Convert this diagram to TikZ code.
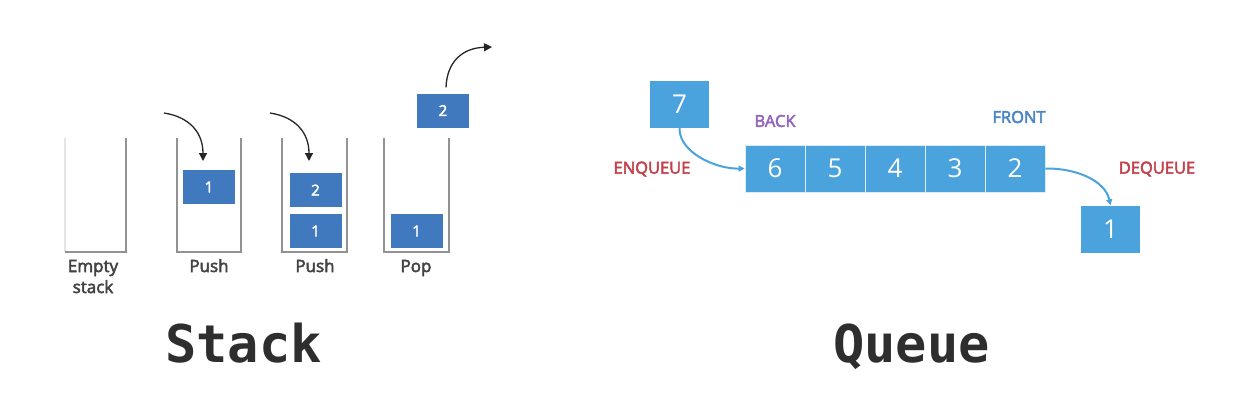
\documentclass[tikz,border=0pt]{standalone}
\usepackage{fontspec}
\setmainfont{Open Sans}
\newfontfamily\titlefont{DejaVu Sans Mono}
\newfontfamily\medfont[FakeBold=3]{Open Sans}
\usetikzlibrary{arrows.meta}
\definecolor{sblue}{HTML}{4179BF}
\definecolor{qblue}{HTML}{4BA3DD}
\definecolor{wallgray}{HTML}{929292}
\definecolor{backpurple}{HTML}{9466BD}
\definecolor{frontblue}{HTML}{4A86C5}
\definecolor{opred}{HTML}{C2414B}
\definecolor{titlegray}{HTML}{2E2E2E}
\begin{document}
\begin{tikzpicture}[x=1pt,y=-1pt,
  wall/.style={draw=wallgray,line width=1.7pt},
  sbox/.style={rectangle,fill=sblue,text=white,minimum width=52pt,minimum height=34pt,inner sep=0pt,font=\medfont\fontsize{15}{15}\selectfont},
  qcell/.style={rectangle,fill=qblue,draw=white!80!qblue,line width=0.8pt,text=white,minimum width=60pt,minimum height=47pt,inner sep=0pt,font=\fontsize{26}{26}\selectfont},
  qbox/.style={rectangle,fill=qblue,text=white,minimum width=59pt,minimum height=47pt,inner sep=0pt,font=\fontsize{26}{26}\selectfont},
  slabel/.style={anchor=base,text=titlegray!90,font=\medfont\fontsize{17}{21}\selectfont,align=center,inner sep=0pt},
  qlabel/.style={inner sep=0pt,font=\medfont\fontsize{16.5}{16.5}\selectfont},
  title/.style={anchor=base,text=titlegray,inner sep=0pt,font=\titlefont\bfseries\fontsize{52}{52}\selectfont},
  sarrow/.style={draw=black!85,line width=1.3pt,-{Triangle[length=8pt,width=8pt]}},
  qarrow/.style={draw=qblue,line width=2pt,-{Triangle[length=6pt,width=6pt]}}]
\useasboundingbox (0,0) rectangle (1234,408);

% ---------- Stack ----------
\draw[wall,draw=wallgray!25] (65,138) -- (65,252);
\draw[wall] (65,252) -- (126,252) -- (126,138);
\draw[wall] (177,138) -- (177,252) -- (241,252) -- (241,138);
\draw[wall] (282,138) -- (282,252) -- (347,252) -- (347,138);
\draw[wall] (384,138) -- (384,252) -- (449,252) -- (449,138);

\node[sbox] (p1) at (209,187) {1};
\node[sbox] (p22) at (315.5,190) {2};
\node[sbox] (p21) at (315.5,231) {1};
\node[sbox] (o1) at (416.5,231) {1};
\node[sbox] (o2) at (443,110.5) {2};

\coordinate (a1s) at (164,113);
\coordinate (a1e) at (203,161);
\coordinate (a2s) at (270,113);
\coordinate (a2e) at (309,161);
\coordinate (a3e) at (492,47);
\draw[sarrow] (a1s) .. controls (190,117) and (203,133) .. (a1e);
\draw[sarrow] (a2s) .. controls (296,117) and (309,133) .. (a2e);
\draw[sarrow] (o2.north) ++(3,-6) coordinate (a3s) .. controls (447,62) and (462,48) .. (a3e);

\node[slabel] (l0) at (93,293) {Empty\\stack};
\node[slabel] (l1) at (209,272) {Push};
\node[slabel] (l2) at (315,272) {Push};
\node[slabel] (l3) at (416,272) {Pop};

\node[title] (ts) at (243.5,362) {Stack};

% ---------- Queue ----------
\node[qcell] (c6) at (775,168.5) {6};
\node[qcell] (c5) at (835,168.5) {5};
\node[qcell] (c4) at (895,168.5) {4};
\node[qcell] (c3) at (955,168.5) {3};
\node[qcell] (c2) at (1015,168.5) {2};
\node[qbox] (n7) at (679.5,104.5) {7};
\node[qbox] (n1) at (1110.5,229) {1};

\draw[qarrow] (n7.south) .. controls (679,152) and (715,169) .. (c6.west);
\draw[qarrow] (c2.east) .. controls (1075,168) and (1105,180) .. (n1.north);

\node[qlabel,text=backpurple] (back) at (775,121) {BACK};
\node[qlabel,text=frontblue] (front) at (1019,117) {FRONT};
\node[qlabel,text=opred] (enq) at (652,169) {ENQUEUE};
\node[qlabel,text=opred] (deq) at (1157,169) {DEQUEUE};

\node[title] (tq) at (911.5,362) {Queue};
\end{tikzpicture}
\end{document}
